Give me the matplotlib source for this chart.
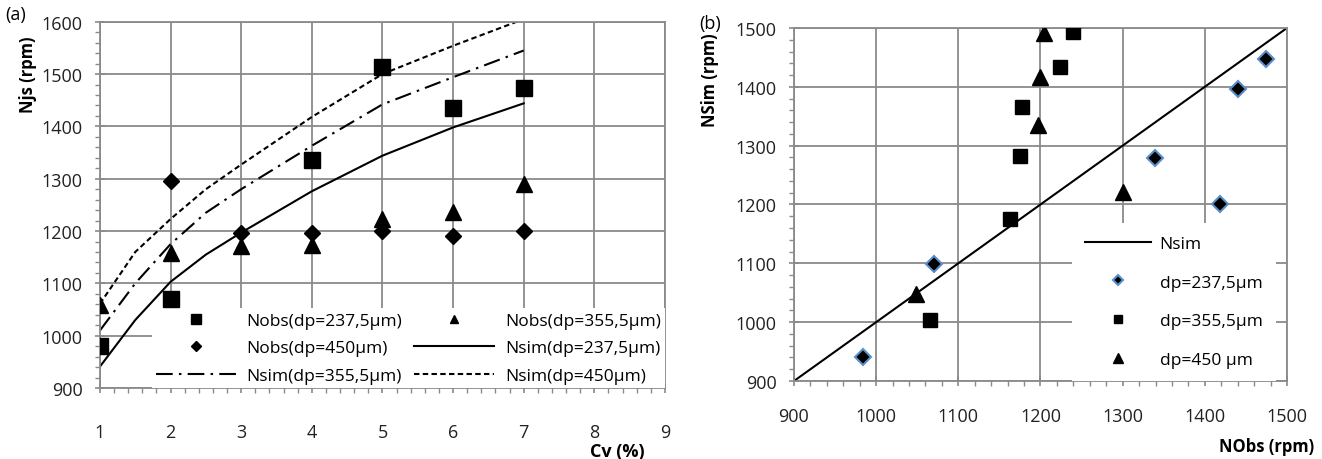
import numpy as np
import matplotlib
matplotlib.use("Agg")
import matplotlib.pyplot as plt
from matplotlib.ticker import MultipleLocator

plt.rcParams["font.family"] = ["Open Sans", "DejaVu Sans"]

GRIS = "#8a8a8a"
BLEU = "#5b8fc9"

# ── (a) Njs en fonction de Cv ────────────────────────────────────────────────
cv_obs_237 = [1, 2, 4, 5, 6, 7]
njs_obs_237 = [980, 1070, 1335, 1513, 1435, 1473]

cv_obs_355 = [1, 2, 3, 4, 5, 6, 7]
njs_obs_355 = [1058, 1158, 1171, 1174, 1223, 1236, 1290]

cv_obs_450 = [2, 3, 4, 5, 6, 7]
njs_obs_450 = [1295, 1196, 1196, 1200, 1190, 1200]

cv_sim = [1, 1.5, 2, 2.5, 3, 4, 5, 6, 7]
njs_sim_237 = [941, 1030, 1103, 1155, 1197, 1276, 1344, 1398, 1444]
njs_sim_355 = [1010, 1100, 1175, 1235, 1280, 1363, 1442, 1494, 1545]
njs_sim_450 = [1061, 1160, 1223, 1280, 1327, 1418, 1500, 1554, 1605]

# ── (b) Nsim en fonction de Nobs ─────────────────────────────────────────────
nobs_237 = [984, 1071, 1339, 1418, 1441, 1475]
nsim_237 = [941, 1098, 1279, 1200, 1397, 1447]

nobs_355 = [1066, 1163, 1175, 1178, 1224, 1239]
nsim_355 = [1004, 1175, 1283, 1366, 1434, 1494]

nobs_450 = [1049, 1197, 1199, 1204, 1300]
nsim_450 = [1047, 1335, 1416, 1492, 1221]

diag = [900, 1500]


def habiller(ax, pad_x):
    for s in ax.spines.values():
        s.set_color(GRIS)
        s.set_linewidth(1.3)
    ax.grid(True, which="major", color=GRIS, linewidth=1.3)
    ax.set_axisbelow(True)
    ax.tick_params(which="major", direction="inout", length=7, width=1.2,
                   color=GRIS, labelsize=13, labelcolor="#222222")
    ax.tick_params(axis="x", which="major", pad=pad_x)
    ax.tick_params(axis="y", which="major", pad=9)
    ax.tick_params(which="minor", direction="out", length=3.5, width=1.0,
                   color=GRIS)
    ax.tick_params(top=False, right=False, which="both")


fig = plt.figure(figsize=(13.22, 4.6), dpi=100)

# ── Graphique (a) ────────────────────────────────────────────────────────────
ax1 = fig.add_axes([0.0756, 0.1543, 0.4274, 0.7963])
ax1.plot(cv_obs_237, njs_obs_237, "s", color="black", ms=12,
         label="Nobs(dp=237,5µm)", zorder=4)
ax1.plot(cv_obs_450, njs_obs_450, "D", color="black", ms=8.5,
         label="Nobs(dp=450µm)", zorder=4)
ax1.plot(cv_sim, njs_sim_355, color="black", lw=1.5,
         linestyle=(0, (8, 3, 1.2, 3)), label="Nsim(dp=355,5µm)")
ax1.plot(cv_obs_355, njs_obs_355, "^", color="black", ms=11,
         label="Nobs(dp=355,5µm)", zorder=4)
ax1.plot(cv_sim, njs_sim_237, color="black", lw=1.5, label="Nsim(dp=237,5µm)")
ax1.plot(cv_sim, njs_sim_450, color="black", lw=1.5,
         linestyle=(0, (2.6, 1.6)), label="Nsim(dp=450µm)")

ax1.set_xlim(1, 9)
ax1.set_ylim(900, 1600)
ax1.xaxis.set_major_locator(MultipleLocator(1))
ax1.xaxis.set_minor_locator(MultipleLocator(0.2))
ax1.yaxis.set_major_locator(MultipleLocator(100))
ax1.yaxis.set_minor_locator(MultipleLocator(20))
habiller(ax1, pad_x=22)

leg1 = ax1.legend(ncol=2, loc="lower left", mode="expand",
                  bbox_to_anchor=(0.0915, 0.0, 0.9085, 0.235),
                  borderaxespad=0, frameon=True, fancybox=False,
                  facecolor="white", edgecolor="none", framealpha=1,
                  fontsize=12.5, handlelength=4.6, labelspacing=0.65,
                  markerscale=0.55, borderpad=0.25, handletextpad=0.6)
leg1.set_zorder(3)

fig.text(0.012, 0.967, "(a)", fontsize=13, ha="center", va="center")
fig.text(0.021, 0.837, "Njs (rpm)", rotation=90, fontsize=12,
         fontweight="bold", ha="center", va="center")
fig.text(0.467, 0.018, "Cv (%)", fontsize=13, fontweight="bold",
         ha="center", va="center")

# ── Graphique (b) ────────────────────────────────────────────────────────────
ax2 = fig.add_axes([0.6006, 0.1696, 0.3729, 0.7674])
ax2.plot(diag, diag, color="black", lw=1.5, label="Nsim")
ax2.plot(nobs_237, nsim_237, "D", color="black", mec=BLEU, mew=1.5, ms=8.5,
         label="dp=237,5µm", zorder=4)
ax2.plot(nobs_355, nsim_355, "s", color="black", ms=10.5,
         label="dp=355,5µm", zorder=4)
ax2.plot(nobs_450, nsim_450, "^", color="black", ms=11,
         label="dp=450 µm", zorder=4)

ax2.set_xlim(900, 1500)
ax2.set_ylim(900, 1500)
ax2.xaxis.set_major_locator(MultipleLocator(100))
ax2.xaxis.set_minor_locator(MultipleLocator(20))
ax2.yaxis.set_major_locator(MultipleLocator(100))
ax2.yaxis.set_minor_locator(MultipleLocator(20))
habiller(ax2, pad_x=15)

leg2 = ax2.legend(loc="lower left", bbox_to_anchor=(0.564, 0.0),
                  borderaxespad=0, frameon=True, fancybox=False,
                  facecolor="white", edgecolor="none", framealpha=1,
                  fontsize=12.5, handlelength=3.8, labelspacing=1.3,
                  markerscale=0.6, borderpad=0.75, handletextpad=0.5)
leg2.set_zorder(3)

fig.text(0.537, 0.948, "(b)", fontsize=13, ha="center", va="center")
fig.text(0.537, 0.826, "NSim (rpm)", rotation=90, fontsize=12,
         fontweight="bold", ha="center", va="center")
fig.text(0.958, 0.028, "NObs (rpm)", fontsize=12, fontweight="bold",
         ha="center", va="center")

fig.savefig("out.png", dpi=100)
